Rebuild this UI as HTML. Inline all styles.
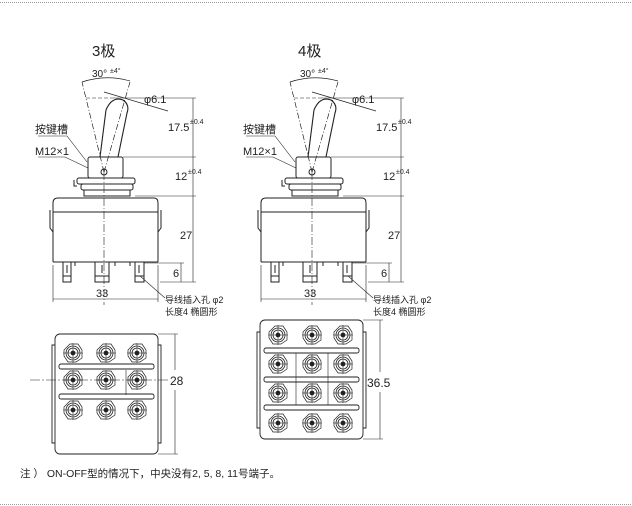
<!DOCTYPE html>
<html><head><meta charset="utf-8"><style>
html,body{margin:0;padding:0;background:#fff;}
svg{display:block;}
text{font-family:"Liberation Sans","Noto Sans CJK SC",sans-serif;fill:#222;}
</style></head><body>
<svg width="632" height="506" viewBox="0 0 632 506" xmlns="http://www.w3.org/2000/svg">
<defs>
<g id="side" stroke="#222" fill="none" stroke-width="1">
  <!-- toggle lever -->
  <path d="M100 157 L106 110 Q112 96 123 100 Q130 105 127 113 L118 157" stroke-width="1.1"/>
  <!-- angle lines -->
  <line x1="104" y1="172" x2="82" y2="82" stroke-dasharray="6,2,1,2" stroke-width="0.7"/>
  <line x1="104" y1="172" x2="130" y2="82" stroke-dasharray="6,2,1,2" stroke-width="0.7"/>
  <line x1="104" y1="172" x2="104" y2="305" stroke-dasharray="8,2,1,2" stroke-width="0.6"/>
  <path d="M82 82 Q106 74 130 81" stroke-width="0.7"/>
  <line x1="86" y1="98" x2="112" y2="98" stroke-dasharray="4,2" stroke-width="0.6"/>
  <line x1="104" y1="92" x2="168" y2="111" stroke-width="0.7"/>
  <line x1="112" y1="98" x2="196" y2="98" stroke-width="0.6"/>
  <!-- bushing -->
  <rect x="88" y="157" width="35" height="21" rx="2"/>
  <circle cx="104" cy="172" r="3"/>
  <!-- nut -->
  <rect x="77" y="178" width="58" height="6" rx="2"/>
  <rect x="81" y="184" width="52" height="6" rx="2"/>
  <rect x="84" y="190" width="46" height="6"/>
  <path d="M74 180 v6 h3"/>
  <!-- body -->
  <path d="M53 262 V203 Q53 198 58 198 H154 Q158 198 158 203 V262"/>
  <line x1="53" y1="212" x2="158" y2="212"/>
  <path d="M50 210 V228 L53 232 M161 210 V228 L158 232"/>
  <line x1="53" y1="262" x2="158" y2="262"/>
  <!-- terminals -->
  <path d="M63 262 v14 h8 v-14 M67 265 v8 M95 262 v14 h14 v-14 M102 265 v8 M135 262 v14 h9 v-14 M139 265 v8 M75 262 v4 M115 262 v4 M130 262 v4" stroke-width="1"/>
  <rect x="63" y="276" width="8" height="6"/><rect x="95" y="276" width="14" height="6"/><rect x="135" y="276" width="9" height="6"/>
  <!-- dims -->
  <line x1="123" y1="157" x2="196" y2="157" stroke-width="0.6"/>
  <line x1="135" y1="196" x2="196" y2="196" stroke-width="0.6"/>
  <line x1="144" y1="263" x2="184" y2="263" stroke-width="0.6"/>
  <line x1="160" y1="282" x2="196" y2="282" stroke-width="0.6"/>
  <line x1="193" y1="98" x2="193" y2="282" stroke-width="0.6"/>
  <line x1="181" y1="263" x2="181" y2="282" stroke-width="0.6"/>
  <line x1="53" y1="265" x2="53" y2="302" stroke-width="0.6"/>
  <line x1="158" y1="265" x2="158" y2="302" stroke-width="0.6"/>
  <line x1="53" y1="299" x2="158" y2="299" stroke-width="0.6"/>
  <!-- leaders -->
  <path d="M38 136 H67 L87 162" stroke-width="0.6"/>
  <path d="M38 157 H65 L88 168" stroke-width="0.6"/>
  <path d="M140 276 L165 298" stroke-width="0.6"/>
</g>
<g id="term" stroke="#222" fill="none" stroke-width="0.8">
  <circle r="7"/><circle r="5"/><circle r="2" fill="#222"/>
  <path d="M-9 -3 L-3 -9 L5 -9 L9 -3 L9 5 L3 9 L-5 9 L-9 3 Z" stroke-width="0.7"/>
  <line x1="-10" y1="0" x2="10" y2="0" stroke-width="0.5"/><line x1="0" y1="-10" x2="0" y2="10" stroke-width="0.5"/>
</g>
</defs>

<use href="#side"/>
<use href="#side" x="208"/>
<g font-size="15"><text x="92" y="56">3极</text><text x="298" y="56">4极</text></g>
<g font-size="11">
  <text x="92" y="77" font-size="10">30°</text><text x="110" y="73" font-size="7">±4°</text>
  <text x="300" y="77" font-size="10">30°</text><text x="318" y="73" font-size="7">±4°</text>
  <text x="144" y="103">φ6.1</text><text x="352" y="103">φ6.1</text>
  <text x="168" y="131">17.5</text><text x="190" y="124" font-size="7">±0.4</text>
  <text x="376" y="131">17.5</text><text x="398" y="124" font-size="7">±0.4</text>
  <text x="175" y="180">12</text><text x="188" y="174" font-size="7">±0.4</text>
  <text x="383" y="180">12</text><text x="396" y="174" font-size="7">±0.4</text>
  <text x="180" y="239">27</text><text x="388" y="239">27</text>
  <text x="173" y="277">6</text><text x="381" y="277">6</text>
  <text x="96" y="297">33</text><text x="304" y="297">33</text>
  <text x="35" y="133">按键槽</text><text x="243" y="133">按键槽</text>
  <text x="35" y="155">M12×1</text><text x="243" y="155">M12×1</text>
</g>
<g font-size="9">
  <text x="165" y="303">导线插入孔 φ2</text><text x="165" y="315">长度4  椭圆形</text>
  <text x="373" y="303">导线插入孔 φ2</text><text x="373" y="315">长度4  椭圆形</text>
</g>

<!-- bottom view 3-pole -->
<g stroke="#222" fill="none" stroke-width="0.9">
  <rect x="55" y="334" width="103" height="120" rx="5"/>
  <path d="M55 345 H52 V443 H55 M158 345 H161 V443 H158"/>
  <rect x="59" y="364" width="95" height="5" rx="2"/>
  <rect x="59" y="394" width="95" height="5" rx="2"/>
  <line x1="30" y1="380" x2="170" y2="380" stroke-dasharray="10,2,2,2" stroke-width="0.6"/>
  <line x1="158" y1="334" x2="178" y2="334" stroke-width="0.6"/><line x1="158" y1="454" x2="178" y2="454" stroke-width="0.6"/>
  <line x1="175" y1="334" x2="175" y2="370" stroke-width="0.6"/><line x1="175" y1="390" x2="175" y2="454" stroke-width="0.6"/>
  <line x1="126" y1="370" x2="126" y2="395" stroke-width="0.6"/>
</g>
<g>
  <use href="#term" x="73" y="353"/><use href="#term" x="106" y="353"/><use href="#term" x="137" y="353"/>
  <use href="#term" x="73" y="380"/><use href="#term" x="106" y="380"/><use href="#term" x="137" y="380"/>
  <use href="#term" x="73" y="410"/><use href="#term" x="106" y="410"/><use href="#term" x="137" y="410"/>
</g>
<text x="170" y="385" font-size="12">28</text>

<!-- bottom view 4-pole -->
<g stroke="#222" fill="none" stroke-width="0.9">
  <rect x="260" y="320" width="103" height="119" rx="5"/>
  <path d="M260 332 H257 V428 H260 M363 332 H366 V428 H363"/>
  <rect x="264" y="348" width="95" height="5" rx="2"/>
  <rect x="264" y="377" width="95" height="5" rx="2"/>
  <rect x="264" y="405" width="95" height="5" rx="2"/>
  <line x1="296" y1="353" x2="296" y2="405" stroke-width="0.6"/><line x1="328" y1="353" x2="328" y2="405" stroke-width="0.6"/>
  <line x1="363" y1="320" x2="383" y2="320" stroke-width="0.6"/><line x1="363" y1="439" x2="383" y2="439" stroke-width="0.6"/>
  <line x1="380" y1="320" x2="380" y2="372" stroke-width="0.6"/><line x1="380" y1="392" x2="380" y2="439" stroke-width="0.6"/>
</g>
<g>
  <use href="#term" x="278" y="335"/><use href="#term" x="312" y="335"/><use href="#term" x="343" y="335"/>
  <use href="#term" x="278" y="364"/><use href="#term" x="312" y="364"/><use href="#term" x="343" y="364"/>
  <use href="#term" x="278" y="393"/><use href="#term" x="312" y="393"/><use href="#term" x="343" y="393"/>
  <use href="#term" x="278" y="423"/><use href="#term" x="312" y="423"/><use href="#term" x="343" y="423"/>
</g>
<text x="367" y="387" font-size="12">36.5</text>

<text x="20" y="477" font-size="10.5">注 ）  ON-OFF型的情况下，中央没有2, 5, 8, 11号端子。</text>
<line x1="0" y1="2.5" x2="632" y2="2.5" stroke="#999" stroke-dasharray="1,1"/>
<line x1="0" y1="504.5" x2="632" y2="504.5" stroke="#999" stroke-dasharray="1,1"/>
</svg>
</body></html>
